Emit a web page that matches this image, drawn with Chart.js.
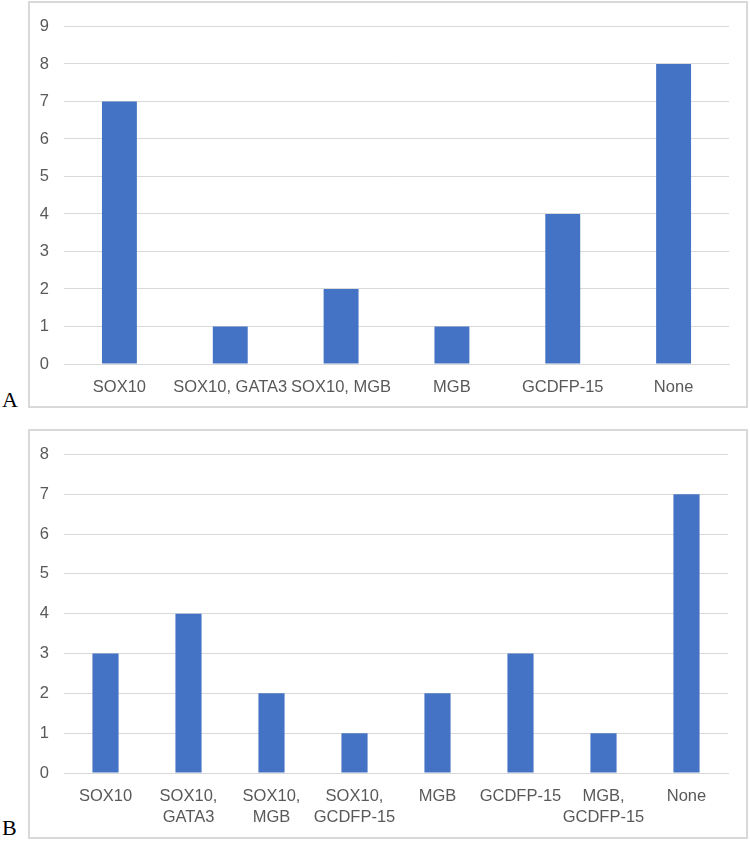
<!DOCTYPE html>
<html>
<head>
<meta charset="utf-8">
<script src="https://cdn.jsdelivr.net/npm/chart.js@4/dist/chart.umd.min.js"></script>
<style>
  html, body { margin: 0; padding: 0; background: #ffffff; }
  body { width: 750px; height: 841px; position: relative; overflow: hidden; }
  .panel { position: absolute; box-sizing: border-box; border: 2px solid #d9d9d9; background: #fff; }
  .cv { position: absolute; }
  .tag { position: absolute; font-family: "Liberation Serif", "Times New Roman", serif; font-size: 22px; color: #000; line-height: 1; }
</style>
</head>
<body>
<div class="panel" style="left:28px; top:1px; width:720px; height:407px;"></div>
<div class="panel" style="left:28px; top:429px; width:720px; height:410px;"></div>
<div class="cv" style="left:28px; top:1px; width:720px; height:407px;"><canvas id="chartA" width="720" height="407"></canvas></div>
<div class="cv" style="left:28px; top:429px; width:720px; height:410px;"><canvas id="chartB" width="720" height="410"></canvas></div>
<div class="tag" style="left:2px; top:389px;">A</div>
<div class="tag" style="left:2px; top:817px;">B</div>
<script>
// Panel A data
const categoriesA = ["SOX10", "SOX10, GATA3", "SOX10, MGB", "MGB", "GCDFP-15", "None"];
const valuesA = [7, 1, 2, 1, 4, 8];
const yMaxA = 9;

// Panel B data
const categoriesB = [["SOX10"], ["SOX10,", "GATA3"], ["SOX10,", "MGB"], ["SOX10,", "GCDFP-15"], ["MGB"], ["GCDFP-15"], ["MGB,", "GCDFP-15"], ["None"]];
const valuesB = [3, 4, 2, 1, 2, 3, 1, 7];
const yMaxB = 8;

const barColor = "#4472C4";
const textColor = "#595959";
const gridColor = "#d9d9d9";
const fontSpec = { family: "'Liberation Sans', Arial, sans-serif", size: 16.5, lineHeight: 1.27 };

function makeChart(id, labels, values, yMax, xHeight, padTop, padRight, xPad) {
  return new Chart(document.getElementById(id), {
    type: "bar",
    data: {
      labels: labels,
      datasets: [{
        data: values,
        backgroundColor: barColor,
        borderWidth: 0,
        barPercentage: 1,
        categoryPercentage: 0.315
      }]
    },
    options: {
      responsive: false,
      animation: false,
      devicePixelRatio: 1,
      layout: { padding: { top: padTop, right: padRight, left: 0, bottom: 0 } },
      plugins: { legend: { display: false }, tooltip: { enabled: false } },
      scales: {
        x: {
          grid: { display: false, drawTicks: false },
          border: { display: true, color: gridColor, width: 1 },
          ticks: { color: textColor, font: fontSpec, autoSkip: false, maxRotation: 0, minRotation: 0, padding: xPad },
          afterFit: s => { s.height = xHeight; }
        },
        y: {
          min: 0,
          max: yMax,
          grid: { color: gridColor, lineWidth: 1, drawTicks: false },
          border: { display: false },
          ticks: { stepSize: 1, color: textColor, font: fontSpec, padding: 15 },
          afterFit: s => { s.width = 36; }
        }
      }
    }
  });
}

makeChart("chartA", categoriesA, valuesA, yMaxA, 44, 20, 19, 13);
makeChart("chartB", categoriesB, valuesB, yMaxB, 66, 21, 20, 13);
</script>
</body>
</html>
